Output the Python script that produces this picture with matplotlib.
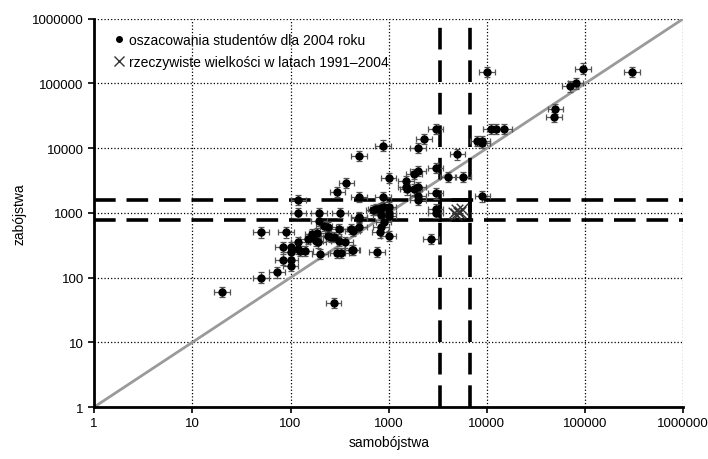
import numpy as np
import matplotlib.pyplot as plt
from matplotlib.ticker import FixedLocator, FixedFormatter, NullLocator

plt.rcParams['font.family'] = ['Liberation Sans', 'DejaVu Sans']

# student estimates for 2004 (suicides, homicides)
suicides = [20, 275, 50, 73, 50, 90, 83, 100, 100, 83, 100, 100, 120, 120, 140,
            200, 300, 330, 430, 150, 170, 190, 240, 275, 310, 120, 120, 195, 320,
            300, 370, 195, 220, 185, 256, 310, 360, 500, 500, 500, 410, 500, 870,
            1000, 870, 830, 700, 1000, 1000, 890, 830, 1000, 820, 760, 420, 1500,
            1550, 1800, 2000, 1800, 2000, 2300, 3000, 3000, 2000, 3000, 3000, 3000,
            2700, 4000, 5700, 5000, 8000, 9000, 9000, 780, 900, 830, 1000, 10000,
            95000, 300000, 70000, 80000, 50000, 48000, 11000, 12500, 15000, 9000,
            1500, 2000, 2000, 500, 740, 240, 430, 167, 180, 125]
homicides = [60, 40, 100, 120, 500, 500, 190, 190, 150, 300, 300, 250, 350, 280, 260,
             230, 240, 240, 270, 400, 420, 350, 440, 420, 370, 1600, 1000, 1000, 1000,
             2100, 2900, 750, 630, 490, 425, 560, 350, 1750, 830, 600, 560, 7500, 11000,
             3500, 1750, 1200, 1100, 1250, 1000, 720, 600, 440, 500, 250, 270, 3100,
             2300, 2300, 4500, 4000, 10000, 14000, 20000, 5000, 1600, 2000, 1150, 1000,
             400, 3600, 3600, 8000, 13000, 13000, 1800, 1150, 1250, 930, 900, 150000,
             170000, 150000, 90000, 100000, 40000, 30000, 20000, 20000, 20000, 12000,
             2500, 2500, 1800, 870, 1150, 600, 530, 470, 370, 260]

# actual values 1991-2004
real_suicides = [4600, 5000, 5300, 5600, 4900, 5200]
real_homicides = [1000, 1100, 1050, 1150, 950, 1000]

# range of actual values (dashed lines)
suicide_range = [3300, 6700]
homicide_range = [780, 1590]

ticks = [1, 10, 100, 1000, 10000, 100000, 1000000]
tick_labels = [str(t) for t in ticks]

x = np.array(suicides, dtype=float)
y = np.array(homicides, dtype=float)
# error bars are about +/-20% on the log axes
f = 1.2
xerr = [x - x / f, x * f - x]
yerr = [y - y / f, y * f - y]

fig = plt.figure(figsize=(7.08, 4.60), dpi=100)
ax = fig.add_axes([0.133, 0.113, 0.832, 0.844])
ax.set_xscale('log')
ax.set_yscale('log')
ax.set_xlim(1, 1e6)
ax.set_ylim(1, 1e6)

ax.grid(True, which='major', linestyle=':', color='black', linewidth=0.9)

# diagonal y = x
ax.plot([1, 1e6], [1, 1e6], color='#9a9a9a', linewidth=2, zorder=2)

# dashed range lines
for v in suicide_range:
    ax.axvline(v, color='black', linewidth=2.6, linestyle=(0, (6, 3)), zorder=3)
for v in homicide_range:
    ax.axhline(v, color='black', linewidth=2.6, linestyle=(0, (6, 3)), zorder=3)
ax.plot([suicide_range[0], suicide_range[1], suicide_range[1], suicide_range[0], suicide_range[0]],
        [homicide_range[0], homicide_range[0], homicide_range[1], homicide_range[1], homicide_range[0]],
        color='black', linewidth=2.6, zorder=3)

ax.errorbar(x, y, xerr=xerr, yerr=yerr, fmt='o', color='black', markersize=5,
            ecolor='#555555', elinewidth=0.9, capsize=2, capthick=0.9, zorder=4)
ax.scatter(real_suicides, real_homicides, marker='x', color='#333333', s=70,
           linewidths=1.0, zorder=5)

ax.xaxis.set_major_locator(FixedLocator(ticks))
ax.xaxis.set_major_formatter(FixedFormatter(tick_labels))
ax.yaxis.set_major_locator(FixedLocator(ticks))
ax.yaxis.set_major_formatter(FixedFormatter(tick_labels))
ax.xaxis.set_minor_locator(NullLocator())
ax.yaxis.set_minor_locator(NullLocator())
ax.tick_params(labelsize=9.5, length=4, width=1.2, direction='out')

for s in ['top', 'right']:
    ax.spines[s].set_visible(False)
for s in ['left', 'bottom']:
    ax.spines[s].set_linewidth(2)

ax.set_xlabel('samobójstwa', fontsize=10)
ax.set_ylabel('zabójstwa', fontsize=10)

# legend
ax.plot([], [], 'o', color='black', markersize=4, label='oszacowania studentów dla 2004 roku')
ax.plot([], [], 'x', color='#333333', markersize=7, markeredgewidth=1.0,
        label='rzeczywiste wielkości w latach 1991–2004')
ax.legend(loc='upper left', frameon=False, fontsize=10, handlelength=0.8,
          handletextpad=0.3, labelspacing=0.55, bbox_to_anchor=(0.012, 0.995))

fig.savefig('out.png', dpi=100)
